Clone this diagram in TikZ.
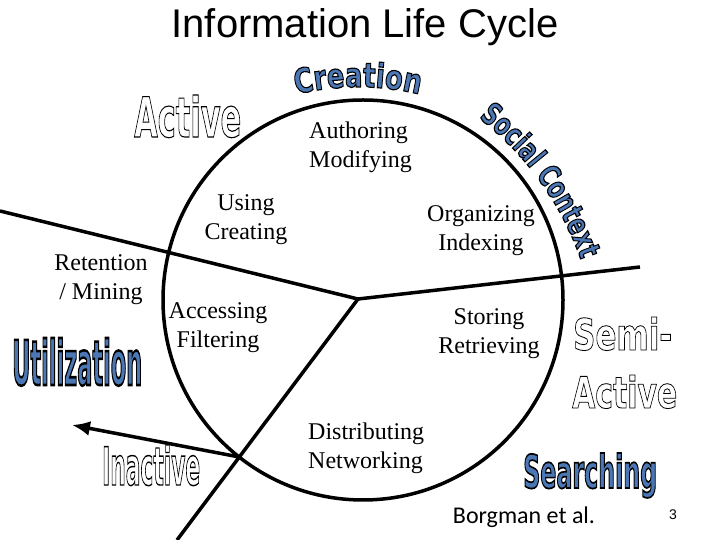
\documentclass[tikz,border=0pt]{standalone}
\usepackage{fontspec}
\setmainfont{Liberation Serif}
\newfontfamily\arialf{Liberation Sans}
\newfontfamily\calibf{Carlito}
\newfontfamily\waf{DejaVu Sans}
\usetikzlibrary{arrows.meta}
\newcommand\blueon{\special{pdf:literal direct 2 Tr 0.9 w 0.294 0.471 0.710 rg 0 0 0 RG}}
\newcommand\whiteon{\special{pdf:literal direct 2 Tr 0.6 w 1 1 1 rg 0 0 0 RG}}
\newcommand\waoff{\special{pdf:literal direct 0 Tr 0 g 0 G}}
\newcommand\wafontA{\waf\bfseries\fontsize{26}{26}\selectfont}
\newcommand\wafontB{\waf\bfseries\fontsize{22}{22}\selectfont}
\begin{document}
\begin{tikzpicture}[x=1pt,y=1pt,
  ln/.style={line width=3.5pt},
  lab/.style={font=\fontsize{24}{28.8}\selectfont, align=center, inner sep=0pt},
  wa/.style={inner sep=0pt, anchor=base west},
  walet/.style={inner sep=0pt, anchor=base}]
\path[use as bounding box, fill=white] (0,0) rectangle (720,540);
\coordinate (O) at (363,240);
\coordinate (J) at (358,241);
\coordinate (L) at (0,329);
\coordinate (R) at (640,273);
\coordinate (B) at (177,0);
\coordinate (A0) at (239.3,83);
\coordinate (tip) at (72,115);
\coordinate (cc) at (358,188);
\coordinate (sc) at (290,179);
% circle and dividing lines
\draw[ln] (O) circle[radius=200];
\draw[ln] (L) -- (J) -- (R);
\draw[ln] (J) -- (B);
\draw[ln,-{Latex[length=18pt,width=15pt]}] (A0) -- (tip);
% title and labels
\node[font=\arialf\fontsize{40}{48}\selectfont, inner sep=0pt] (title) at (365,513) {Information Life Cycle};
\node[lab, align=left, anchor=west] (auth) at (309,393) {Authoring\\Modifying};
\node[lab] (using) at (246,320) {Using\\Creating};
\node[lab] (org) at (481,309) {Organizing\\Indexing};
\node[lab] (ret) at (101,260) {Retention\\/ Mining};
\node[lab] (acc) at (218,212) {Accessing\\Filtering};
\node[lab] (sto) at (489,206) {Storing\\Retrieving};
\node[lab, align=left, anchor=west] (dist) at (308,92) {Distributing\\Networking};
\node[font=\calibf\fontsize{24}{28}\selectfont, inner sep=0pt] (cite) at (524,23) {Borgman et al.};
\node[font=\arialf\fontsize{14}{14}\selectfont, inner sep=0pt] (pg) at (673,25) {3};
% word art, outlined
\node[wa] (act1) at (134,403) {\resizebox{107pt}{42pt}{\fontsize{30}{30}\waf\bfseries\whiteon Active\waoff}};
\node[wa] (semi) at (573,190) {\resizebox{99pt}{33pt}{\fontsize{31}{31}\waf\bfseries\whiteon Semi-\waoff}};
\node[wa] (act2) at (572,132) {\resizebox{105pt}{33pt}{\fontsize{30}{30}\waf\bfseries\whiteon Active\waoff}};
\node[wa] (inact) at (102,55) {\resizebox{98pt}{40pt}{\fontsize{22}{22}\waf\bfseries\whiteon Inactive\waoff}};
% word art, blue
\node[wa] (util) at (12,155) {\resizebox{130pt}{47pt}{\fontsize{22}{22}\waf\bfseries\blueon Utilization\waoff}};
\node[wa] (srch) at (523,52) {\resizebox{134pt}{35pt}{\fontsize{24}{24}\waf\bfseries\blueon Searching\waoff}};
\foreach \ch/\an [count=\k] in {C/101.39, r/97.95, e/94.67, a/90.88, t/87.65, i/85.35, o/82.47, n/78.55}
  \node[walet, rotate=\an-90] (cre\k) at ([shift={(\an:265)}]cc) {\scalebox{1}[1.3]{\wafontA\blueon\ch\waoff}};
\foreach \ch/\an [count=\k] in {S/50.74, o/47.88, c/45.29, i/43.39, a/41.33, l/39.27, C/35.67, o/32.79, n/29.96, t/27.55, e/25.20, x/22.49, t/20.17}
  \node[walet, rotate=\an-90] (soc\k) at ([shift={(\an:308)}]sc) {\scalebox{1}[1.4]{\wafontB\blueon\ch\waoff}};
\end{tikzpicture}
\end{document}
